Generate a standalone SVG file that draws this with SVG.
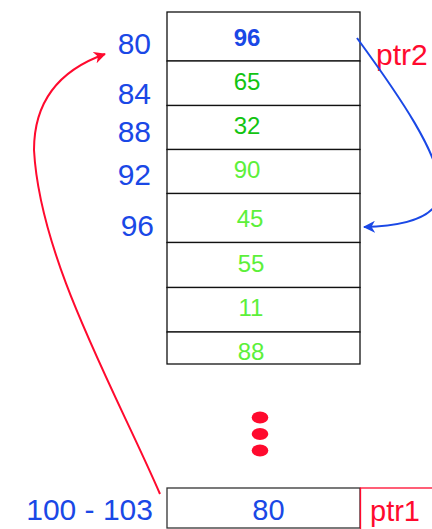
<svg xmlns="http://www.w3.org/2000/svg" width="432" height="529" viewBox="0 0 432 529">
  <style>
    text { font-family: "Liberation Sans", Arial, Helvetica, sans-serif; }
    .cell { fill: #ffffff; stroke: #111111; stroke-width: 1.3; }
    .val { font-size: 24px; text-anchor: middle; }
    .addr { font-size: 30px; fill: #1a48e6; text-anchor: end; }
    .dg { fill: #12c412; }
    .lg { fill: #5cf03a; }
    .red { fill: #ff0a2e; }
  </style>
  <defs>
    <marker id="ahRed" markerWidth="12" markerHeight="12" refX="11" refY="6" orient="auto" markerUnits="userSpaceOnUse">
      <path d="M0,0 L12,6 L0,12 L3.5,6 z" fill="#ff0a2e"/>
    </marker>
    <marker id="ahBlue" markerWidth="12" markerHeight="12" refX="11" refY="6" orient="auto" markerUnits="userSpaceOnUse">
      <path d="M0,0 L12,6 L0,12 L3.5,6 z" fill="#1a48e6"/>
    </marker>
  </defs>

  <g id="memory">
    <g id="cell80"><rect class="cell" x="167" y="12" width="193" height="49"/><text class="val" x="247" y="45.5" font-weight="bold" fill="#1a48e6">96</text></g>
    <g id="cell84"><rect class="cell" x="167" y="61" width="193" height="44.5"/><text class="val dg" x="247" y="90">65</text></g>
    <g id="cell88"><rect class="cell" x="167" y="105.5" width="193" height="44"/><text class="val dg" x="247" y="134">32</text></g>
    <g id="cell92"><rect class="cell" x="167" y="149.5" width="193" height="44"/><text class="val lg" x="247" y="178">90</text></g>
    <g id="cell96"><rect class="cell" x="167" y="193.5" width="193" height="49"/><text class="val lg" x="250" y="227">45</text></g>
    <g id="cell100"><rect class="cell" x="167" y="242.5" width="193" height="45"/><text class="val lg" x="251" y="271.5">55</text></g>
    <g id="cell104"><rect class="cell" x="167" y="287.5" width="193" height="44.5"/><text class="val lg" x="251" y="316">11</text></g>
    <g id="cell108"><rect class="cell" x="167" y="332" width="193" height="32"/><text class="val lg" x="251" y="360">88</text></g>
  </g>

  <g id="addresses">
    <text class="addr" x="151" y="54">80</text>
    <text class="addr" x="151" y="104">84</text>
    <text class="addr" x="151" y="142">88</text>
    <text class="addr" x="151" y="185">92</text>
    <text class="addr" x="154" y="236">96</text>
  </g>

  <g id="ellipsis" fill="#ff0a2e">
    <ellipse cx="260" cy="417.5" rx="8.3" ry="6"/>
    <ellipse cx="260" cy="434" rx="8.3" ry="6"/>
    <ellipse cx="260" cy="450.5" rx="8.3" ry="6"/>
  </g>

  <g id="ptr1">
    <rect x="167" y="488" width="193" height="40" fill="#ffffff" stroke="#333333" stroke-width="1.3"/>
    <text x="268.5" y="520" font-size="29" fill="#1a48e6" text-anchor="middle">80</text>
    <text class="addr" x="153" y="520" font-size="31">100 - 103</text>
  </g>
  <g id="ptr1label">
    <rect x="360.5" y="488" width="80" height="50" fill="none" stroke="#ff0a2e" stroke-width="1.3"/>
    <text x="370" y="521" font-size="29" class="red">ptr1</text>
  </g>

  <g id="ptr2label">
    <text x="376" y="65" font-size="30" class="red">ptr2</text>
  </g>

  <g id="connectors" fill="none" stroke-width="2">
    <path d="M160,494 C115,390 40,260 34,150 C34,100 60,70 105,54" stroke="#ff0a2e" marker-end="url(#ahRed)"/>
    <path d="M357,38 C395,90 445,160 440,195 C436,215 410,226 364,227" stroke="#1a48e6" marker-end="url(#ahBlue)"/>
  </g>
</svg>
